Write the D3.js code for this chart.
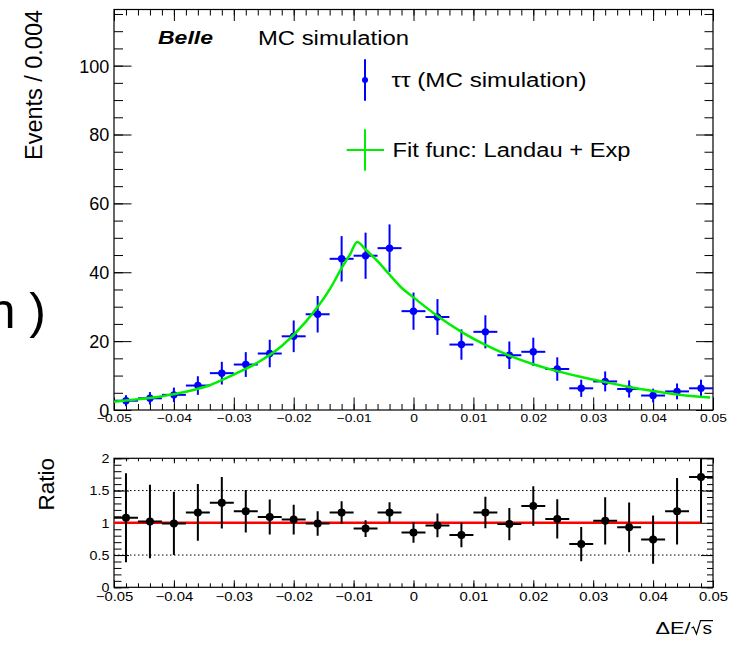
<!DOCTYPE html>
<html>
<head>
<meta charset="utf-8">
<script src="https://cdn.jsdelivr.net/npm/d3@7"></script>
<style>
  body { margin: 0; background: #fff; }
  text { font-family: "Liberation Sans", Arial, Helvetica, sans-serif; }
</style>
</head>
<body>
<div id="chart"></div>
<script>
// bins of 0.004 in dE/sqrt(s)
const binCenters = [-0.048, -0.044, -0.040, -0.036, -0.032, -0.028, -0.024, -0.020, -0.016, -0.012,
  -0.008, -0.004, 0.000, 0.004, 0.008, 0.012, 0.016, 0.020, 0.024, 0.028, 0.032, 0.036, 0.040, 0.044, 0.048];
const binHalf = 0.002;

// tau tau MC, events per bin
const counts = [2.7, 3.4, 4.4, 7.1, 10.7, 13.2, 16.4, 21.4, 27.8, 43.9, 44.8, 47.0,
  28.7, 27.0, 19.0, 22.7, 15.9, 16.9, 11.9, 6.3, 8.3, 6.1, 4.2, 5.4, 6.3];
const countErr = [1.6, 1.8, 2.1, 2.7, 3.3, 3.6, 4.0, 4.6, 5.3, 6.6, 6.7, 6.9,
  5.4, 5.2, 4.4, 4.8, 4.0, 4.1, 3.4, 2.5, 2.9, 2.5, 2.0, 2.3, 2.5];

// fit func (Landau + Exp)
const fitX = [-0.05, -0.046, -0.042, -0.038, -0.034, -0.030, -0.026, -0.022, -0.018, -0.014, -0.012, -0.0105,
  -0.0094, -0.008, -0.006, -0.004, -0.002, 0, 0.004, 0.008, 0.012, 0.016, 0.020, 0.024, 0.028, 0.032,
  0.036, 0.040, 0.044, 0.0495];
const fitY = [2.4, 3.1, 4.0, 5.3, 7.2, 10.3, 13.8, 18.6, 25.6, 35.0, 41.2, 45.5,
  48.8, 46.6, 43.2, 39.3, 35.5, 32.7, 27.3, 22.7, 18.9, 15.8, 13.3, 11.3, 9.6, 8.1,
  6.7, 5.5, 4.5, 3.6];

// data / fit ratio
const ratio = [1.08, 1.02, 0.99, 1.16, 1.31, 1.18, 1.09, 1.05, 0.99, 1.16, 0.91, 1.16,
  0.85, 0.96, 0.81, 1.16, 0.98, 1.26, 1.06, 0.67, 1.03, 0.93, 0.74, 1.18, 1.71];
const ratioErr = [0.69, 0.57, 0.49, 0.44, 0.40, 0.33, 0.27, 0.23, 0.19, 0.175, 0.13, 0.16,
  0.16, 0.185, 0.19, 0.245, 0.25, 0.305, 0.305, 0.265, 0.365, 0.385, 0.375, 0.515, 0.71];

const xTicks = [-0.05, -0.04, -0.03, -0.02, -0.01, 0, 0.01, 0.02, 0.03, 0.04, 0.05];
const yTicks = [0, 20, 40, 60, 80, 100];
const ratioTicks = [0, 0.5, 1, 1.5, 2];

const width = 729, height = 647;
const SX = 1.19; // the picture's text is a bit wide

const svg = d3.select("#chart").append("svg")
  .attr("width", width).attr("height", height);
svg.append("rect").attr("width", width).attr("height", height).attr("fill", "#fff");

const x = d3.scaleLinear().domain([-0.05, 0.05]).range([114, 713]);
const y = d3.scaleLinear().domain([0, 116.3]).range([410, 9.5]);
const yr = d3.scaleLinear().domain([0, 2]).range([587.3, 458.3]);

const xFmt = d => Math.abs(d) < 1e-9 ? "0" : d3.format(".2f")(d);

function drawTicks(g, ys, o) {
  const [xl, xr] = x.range();
  const [yb, yt] = ys.range();
  const put = (gen, vals, len, tr) => g.append("g").attr("transform", tr)
    .call(gen.tickValues(vals).tickSize(-len).tickFormat(""))
    .call(s => s.select(".domain").remove())
    .call(s => s.selectAll("line").attr("stroke", "#000").attr("stroke-width", 1));
  put(d3.axisBottom(x), o.xMinor, o.bMin, `translate(0,${yb})`);
  put(d3.axisBottom(x), o.xMajor, o.bMaj, `translate(0,${yb})`);
  put(d3.axisTop(x), o.xMinor, o.tMin, `translate(0,${yt})`);
  put(d3.axisTop(x), o.xMajor, o.tMaj, `translate(0,${yt})`);
  put(d3.axisLeft(ys), o.yMinor, o.lMin, `translate(${xl},0)`);
  put(d3.axisLeft(ys), o.yMajor, o.lMaj, `translate(${xl},0)`);
  put(d3.axisRight(ys), o.yMinor, o.rMin, `translate(${xr},0)`);
  put(d3.axisRight(ys), o.yMajor, o.rMaj, `translate(${xr},0)`);

  // labels
  g.append("g").attr("transform", `translate(0,${yb})`)
    .call(d3.axisBottom(x).tickValues(o.xMajor).tickSize(0).tickPadding(o.xPad).tickFormat(xFmt))
    .call(s => s.select(".domain").remove())
    .call(s => s.selectAll("text").attr("font-size", o.xFont).attr("fill", "#000")
      .attr("transform", `scale(${o.xSx},1)`));
  g.append("g").attr("transform", `translate(${xl},0)`)
    .call(d3.axisLeft(ys).tickValues(o.yMajor).tickSize(0).tickFormat(o.yFmt))
    .call(s => s.select(".domain").remove())
    .call(s => s.selectAll("text").attr("font-size", o.yFont).attr("fill", "#000")
      .attr("x", -o.yPad / o.ySx).attr("dy", "0.36em")
      .attr("transform", `scale(${o.ySx},1)`));

  g.append("rect")
    .attr("x", xl).attr("y", yt).attr("width", xr - xl).attr("height", yb - yt)
    .attr("fill", "none").attr("stroke", "#000").attr("stroke-width", 1.2);
}

// ---------- main panel ----------
const main = svg.append("g");

drawTicks(main, y, {
  xMajor: xTicks, xMinor: x.ticks(50),
  yMajor: yTicks, yMinor: y.ticks(23).filter(v => v <= 116),
  bMaj: 12.5, bMin: 6, tMaj: 11.5, tMin: 6,
  lMaj: 17.5, lMin: 9, rMaj: 17, rMin: 8.5,
  xPad: 4, xFont: 11.6, xSx: SX,
  yPad: 4.7, yFont: 18, ySx: 1, yFmt: d => String(d)
});

const pts = main.append("g").selectAll("g").data(binCenters).join("g");
pts.append("line")
  .attr("x1", d => x(d - binHalf)).attr("x2", d => x(d + binHalf))
  .attr("y1", (d, i) => y(counts[i])).attr("y2", (d, i) => y(counts[i]))
  .attr("stroke", "#0000ff").attr("stroke-width", 2);
pts.append("line")
  .attr("x1", d => x(d)).attr("x2", d => x(d))
  .attr("y1", (d, i) => y(counts[i] - countErr[i])).attr("y2", (d, i) => y(counts[i] + countErr[i]))
  .attr("stroke", "#0000ff").attr("stroke-width", 2);
pts.append("circle")
  .attr("cx", d => x(d)).attr("cy", (d, i) => y(counts[i])).attr("r", 3.7)
  .attr("fill", "#0000ff");

const fitLine = d3.line().x(d => x(d[0])).y(d => y(d[1])).curve(d3.curveMonotoneX);
main.append("path")
  .datum(fitX.map((v, i) => [v, fitY[i]]))
  .attr("d", fitLine)
  .attr("fill", "none").attr("stroke", "#00ee00").attr("stroke-width", 2.5);

// titles and legend
main.append("text")
  .attr("x", 158).attr("y", 44.3)
  .attr("font-size", 19).attr("font-weight", "bold").attr("font-style", "italic")
  .attr("textLength", 55).attr("lengthAdjust", "spacingAndGlyphs")
  .text("Belle");
main.append("text")
  .attr("x", 258).attr("y", 45)
  .attr("font-size", 20)
  .attr("textLength", 151).attr("lengthAdjust", "spacingAndGlyphs")
  .text("MC simulation");

const leg = main.append("g");
leg.append("line").attr("x1", 365).attr("x2", 365).attr("y1", 59.3).attr("y2", 100.7)
  .attr("stroke", "#0000ff").attr("stroke-width", 2);
leg.append("circle").attr("cx", 365).attr("cy", 80).attr("r", 3).attr("fill", "#0000ff");
leg.append("text").attr("x", 391.5).attr("y", 87).attr("font-size", 20)
  .attr("textLength", 195).attr("lengthAdjust", "spacingAndGlyphs")
  .text("ττ (MC simulation)");
leg.append("line").attr("x1", 365).attr("x2", 365).attr("y1", 129.3).attr("y2", 170.7)
  .attr("stroke", "#00ee00").attr("stroke-width", 2);
leg.append("line").attr("x1", 346.7).attr("x2", 384).attr("y1", 150).attr("y2", 150)
  .attr("stroke", "#00ee00").attr("stroke-width", 2);
leg.append("text").attr("x", 392.5).attr("y", 157).attr("font-size", 20)
  .attr("textLength", 238).attr("lengthAdjust", "spacingAndGlyphs")
  .text("Fit func: Landau + Exp");

svg.append("text")
  .attr("transform", "translate(41.7,10) rotate(-90)")
  .attr("text-anchor", "end").attr("font-size", 23)
  .attr("textLength", 150).attr("lengthAdjust", "spacingAndGlyphs")
  .text("Events / 0.004");

// piece of a large label cut by the left edge
svg.append("text")
  .attr("x", 46).attr("y", 328)
  .attr("text-anchor", "end").attr("font-size", 50)
  .text("(MC simulation )");

// ---------- ratio panel ----------
const rp = svg.append("g");

rp.append("defs").append("clipPath").attr("id", "rclip")
  .append("rect").attr("x", x(-0.05)).attr("y", yr(2))
  .attr("width", x(0.05) - x(-0.05)).attr("height", yr(0) - yr(2));

rp.append("g").selectAll("line").data([0.5, 1.5]).join("line")
  .attr("x1", x(-0.05)).attr("x2", x(0.05))
  .attr("y1", d => yr(d)).attr("y2", d => yr(d))
  .attr("stroke", "#000").attr("stroke-width", 1).attr("stroke-dasharray", "1.5,2.5");

drawTicks(rp, yr, {
  xMajor: xTicks, xMinor: x.ticks(50),
  yMajor: ratioTicks, yMinor: yr.ticks(20),
  bMaj: 7, bMin: 4, tMaj: 5, tMin: 3,
  lMaj: 15, lMin: 7.5, rMaj: 12, rMin: 6,
  xPad: 4.5, xFont: 12.5, xSx: SX,
  yPad: 4.7, yFont: 12, ySx: SX, yFmt: d => String(d)
});

rp.append("line")
  .attr("x1", x(-0.05)).attr("x2", x(binCenters[binCenters.length - 1]))
  .attr("y1", yr(1)).attr("y2", yr(1))
  .attr("stroke", "#ff0000").attr("stroke-width", 2.5);

const rpts = rp.append("g").attr("clip-path", "url(#rclip)")
  .selectAll("g").data(binCenters).join("g");
rpts.append("line")
  .attr("x1", d => x(d - binHalf)).attr("x2", d => x(d + binHalf))
  .attr("y1", (d, i) => yr(ratio[i])).attr("y2", (d, i) => yr(ratio[i]))
  .attr("stroke", "#000").attr("stroke-width", 2);
rpts.append("line")
  .attr("x1", d => x(d)).attr("x2", d => x(d))
  .attr("y1", (d, i) => yr(ratio[i] - ratioErr[i])).attr("y2", (d, i) => yr(ratio[i] + ratioErr[i]))
  .attr("stroke", "#000").attr("stroke-width", 2);
rpts.append("circle")
  .attr("cx", d => x(d)).attr("cy", (d, i) => yr(ratio[i])).attr("r", 4)
  .attr("fill", "#000");

svg.append("text")
  .attr("transform", "translate(54,458) rotate(-90)")
  .attr("text-anchor", "end").attr("font-size", 22.5)
  .text("Ratio");

// x title: dE / sqrt(s)
const xt = svg.append("g").attr("transform", "translate(655.5,633.5)");
xt.append("text").attr("font-size", 16)
  .attr("textLength", 35).attr("lengthAdjust", "spacingAndGlyphs").text("ΔE/");
xt.append("text").attr("font-size", 16).attr("transform", `scale(${SX},1)`)
  .attr("x", 47 / SX).text("s");
xt.append("path")
  .attr("d", "M36,-5.5 L38,-6.5 L41,0.5 L45,-12.8 L57.5,-12.8")
  .attr("fill", "none").attr("stroke", "#000").attr("stroke-width", 1.2);
</script>
</body>
</html>
